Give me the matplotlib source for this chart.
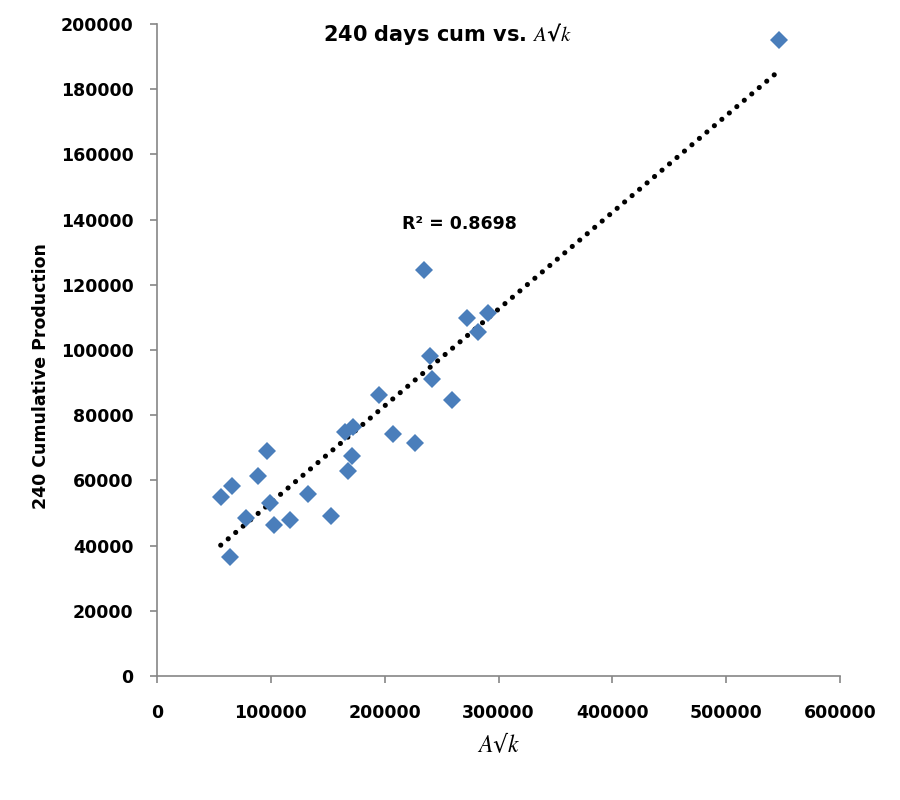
import numpy as np
import matplotlib
matplotlib.use("Agg")
import matplotlib.pyplot as plt

# A*sqrt(k) vs 240 day cumulative production
avk = [56000, 66000, 64000, 78000, 89000, 97000, 99500, 103000, 117000,
       133000, 153000, 165000, 168000, 171500, 172500, 195000, 207500,
       226500, 234500, 240000, 241500, 259500, 272500, 282000, 291000, 546500]
cum240 = [54900, 58300, 36500, 48500, 61400, 69000, 53100, 46300, 47900,
          55800, 49100, 74900, 62900, 67500, 76300, 86200, 74200,
          71500, 124500, 98200, 91100, 84700, 109800, 105500, 111400, 195100]
r2_text = "R² = 0.8698"

plt.rcParams['font.family'] = ['DejaVu Sans']
plt.rcParams['mathtext.fontset'] = 'stix'

fig = plt.figure(figsize=(9, 8), dpi=100)
ax = fig.add_axes([0.1744, 0.155, 0.759, 0.815])

x = np.array(avk)
y = np.array(cum240)
ax.plot(x, y, linestyle='none', marker='D', markersize=9.5,
        color='#4a7ebb', markeredgewidth=0, zorder=3)

# linear trendline
k, b = np.polyfit(x, y, 1)
xt = np.array([x.min(), x.max() * 0.994])
ax.plot(xt, k * xt + b, color='black', linewidth=3.7,
        linestyle=(0, (0.01, 1.9)), dash_capstyle='round', zorder=2)

ax.set_xlim(0, 600000)
ax.set_ylim(0, 200000)
ax.set_xticks(np.arange(0, 600001, 100000))
ax.set_yticks(np.arange(0, 200001, 20000))

for s in ['top', 'right']:
    ax.spines[s].set_visible(False)
for s in ['left', 'bottom']:
    ax.spines[s].set_color('#868686')
    ax.spines[s].set_linewidth(1.2)
ax.tick_params(axis='both', direction='out', length=5, width=1.2,
               color='#868686', labelsize=12.5, labelcolor='black')
ax.tick_params(axis='x', pad=15)
ax.tick_params(axis='y', pad=12)
for lab in ax.get_xticklabels() + ax.get_yticklabels():
    lab.set_fontweight('bold')

ax.set_ylabel('240 Cumulative Production', fontsize=12.5, fontweight='bold')
ax.yaxis.set_label_coords(-0.157, 0.46)
ax.set_xlabel('$A$√$k$', fontsize=17, labelpad=8)

ax.text(0.425, 0.985, '240 days cum vs. $A$√$k$', transform=ax.transAxes,
        ha='center', va='center', fontsize=15, fontweight='bold')
ax.text(266000, 138600, r2_text, ha='center', va='center',
        fontsize=12.5, fontweight='bold')

fig.savefig('out.png', dpi=100, facecolor='white')
